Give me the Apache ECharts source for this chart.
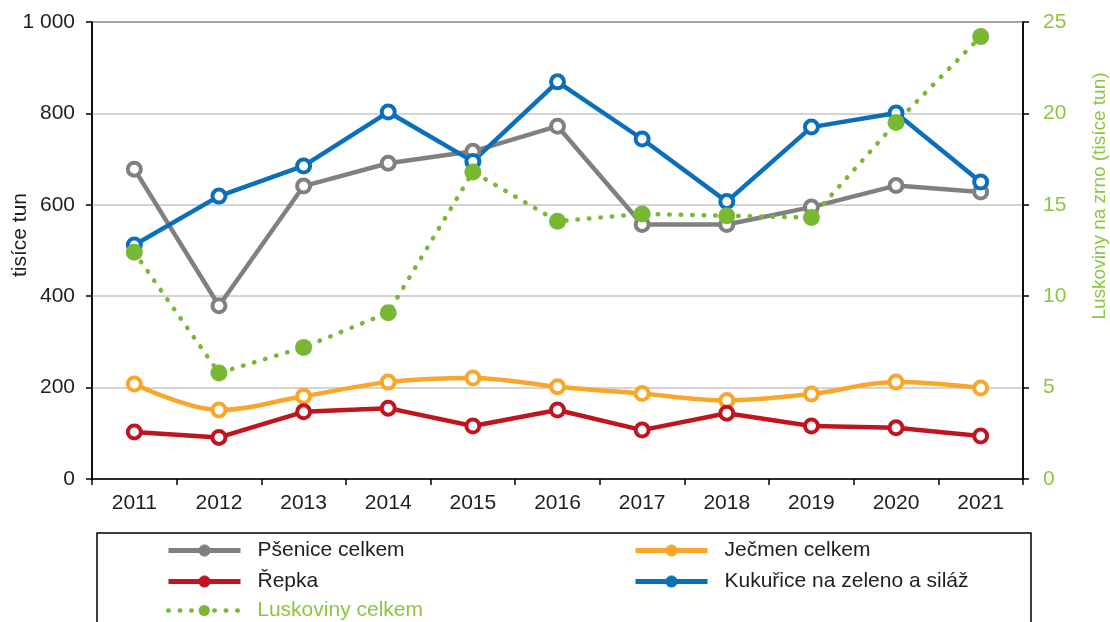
<!DOCTYPE html>
<html>
<head>
<meta charset="utf-8">
<script src="https://cdn.jsdelivr.net/npm/echarts@6/dist/echarts.min.js"></script>
<style>
  html, body { margin: 0; padding: 0; background: #fff; }
  #chart { width: 1110px; height: 622px; }
</style>
</head>
<body>
<div id="chart"></div>
<script>
/* Sklizeň vybraných plodin 2011-2021 */
var years = ['2011', '2012', '2013', '2014', '2015', '2016', '2017', '2018', '2019', '2020', '2021'];
var psenice = [678, 379, 641, 691, 717, 772, 557, 557, 595, 642, 628];
var jecmen = [208, 151, 181, 212, 221, 202, 187, 172, 186, 212, 199];
var repka = [103, 91, 147, 155, 116, 151, 107, 144, 116, 112, 94];
var kukurice = [512, 619, 685, 803, 695, 869, 744, 607, 770, 801, 650];
var luskoviny = [12.4, 5.8, 7.2, 9.1, 16.8, 14.1, 14.5, 14.4, 14.3, 19.5, 24.2];
var leftTicks = [0, 200, 400, 600, 800, 1000];
var rightTicks = [0, 5, 10, 15, 20, 25];

var FONT = '"Liberation Sans", Arial, sans-serif';
var TXT = '#1e1e1e';
var GREEN_TXT = '#8cc63f';
var C_GRAY = '#808080', C_ORANGE = '#f9a62b', C_RED = '#c0141f', C_BLUE = '#0b6fba', C_GREEN = '#79b833';

var chartInit = function chartInit() {
  var $chartEl = document.getElementById('chart');
  var chart = echarts.init($chartEl);

  // hollow ring markers: white fill, thick coloured border
  var ringSeries = function (name, data, color, smooth) {
    return {
      name: name,
      type: 'line',
      data: data,
      smooth: smooth ? 0.35 : false,
      symbol: 'circle',
      symbolSize: 13,
      lineStyle: { color: color, width: 4.5 },
      itemStyle: { color: '#fff', borderColor: color, borderWidth: 4 },
      emphasis: { disabled: true },
      animation: false
    };
  };

  var legendText = { fontFamily: FONT, fontSize: 21, color: TXT, lineHeight: 20, padding: [0, 0, 0, 12] };

  var legendBlock = function (left, top, data) {
    return {
      orient: 'vertical',
      left: left, top: top,
      padding: 0,
      itemWidth: 72, itemHeight: 14, itemGap: 10,
      lineStyle: { width: 5 },
      textStyle: legendText,
      data: data
    };
  };

  // legend markers in the picture are filled dots
  var legendItem = function (name, color) {
    return { name: name, itemStyle: { color: color, borderColor: color, borderWidth: 1 } };
  };

  var option = {
    textStyle: { fontFamily: FONT },
    grid: {
      left: 92, right: 87, top: 22, bottom: 143,
      show: true, borderColor: '#000', borderWidth: 1.5, backgroundColor: 'transparent'
    },
    xAxis: {
      type: 'category',
      data: years,
      boundaryGap: true,
      axisLine: { lineStyle: { color: '#000', width: 1.5 } },
      axisTick: { show: true, length: 6, lineStyle: { color: '#000', width: 1.5 } },
      axisLabel: { color: TXT, fontSize: 21, fontFamily: FONT, margin: 14 },
      splitLine: { show: false }
    },
    yAxis: [{
      type: 'value',
      min: leftTicks[0],
      max: leftTicks[leftTicks.length - 1],
      interval: leftTicks[1] - leftTicks[0],
      axisLine: { show: true, lineStyle: { color: '#000', width: 1.5 } },
      axisTick: { show: true, length: 6, lineStyle: { color: '#000', width: 1.5 } },
      axisLabel: {
        color: TXT, fontSize: 21, fontFamily: FONT, margin: 17,
        formatter: function (v) { return String(v).replace(/\B(?=(\d{3})+(?!\d))/g, ' '); }
      },
      splitLine: { show: true, lineStyle: { color: '#c6c6c6', width: 1.5 } }
    }, {
      type: 'value',
      position: 'right',
      min: rightTicks[0],
      max: rightTicks[rightTicks.length - 1],
      interval: rightTicks[1] - rightTicks[0],
      axisLine: { show: true, lineStyle: { color: '#000', width: 1.5 } },
      axisTick: { show: true, length: 6, lineStyle: { color: '#000', width: 1.5 } },
      axisLabel: { color: GREEN_TXT, fontSize: 21, fontFamily: FONT, margin: 20 },
      splitLine: { show: false }
    }],
    legend: [
      legendBlock(166, 540, [legendItem('Pšenice celkem', C_GRAY), legendItem('Řepka', C_RED)]),
      legendBlock(166, 600, [{ name: 'Luskoviny celkem', textStyle: { color: GREEN_TXT }, lineStyle: { width: 4.5 } }]),
      legendBlock(633, 540, [legendItem('Ječmen celkem', C_ORANGE), legendItem('Kukuřice na zeleno a siláž', C_BLUE)])
    ],
    graphic: [{
      type: 'rect',
      shape: { x: 97, y: 533, width: 934, height: 120 },
      style: { fill: 'none', stroke: '#000', lineWidth: 1.5 },
      silent: true
    }, {
      type: 'text',
      x: 20, y: 235, rotation: Math.PI / 2,
      style: { text: 'tisíce tun', fill: TXT, font: '21px ' + FONT, align: 'center', verticalAlign: 'middle' }
    }, {
      type: 'text',
      x: 1100, y: 196, rotation: Math.PI / 2,
      style: { text: 'Luskoviny na zrno (tisíce tun)', fill: GREEN_TXT, font: '19px ' + FONT, align: 'center', verticalAlign: 'middle' }
    }],
    series: [
      ringSeries('Pšenice celkem', psenice, C_GRAY, false),
      ringSeries('Ječmen celkem', jecmen, C_ORANGE, true),
      ringSeries('Řepka', repka, C_RED, false),
      ringSeries('Kukuřice na zeleno a siláž', kukurice, C_BLUE, false),
      {
        name: 'Luskoviny celkem',
        type: 'line',
        yAxisIndex: 1,
        data: luskoviny,
        symbol: 'circle',
        symbolSize: 17,
        lineStyle: { color: C_GREEN, width: 4.5, type: [0.5, 11], cap: 'round' },
        itemStyle: { color: C_GREEN },
        emphasis: { disabled: true },
        animation: false
      }
    ]
  };

  chart.setOption(option);
};

document.addEventListener('DOMContentLoaded', chartInit);
</script>
</body>
</html>
